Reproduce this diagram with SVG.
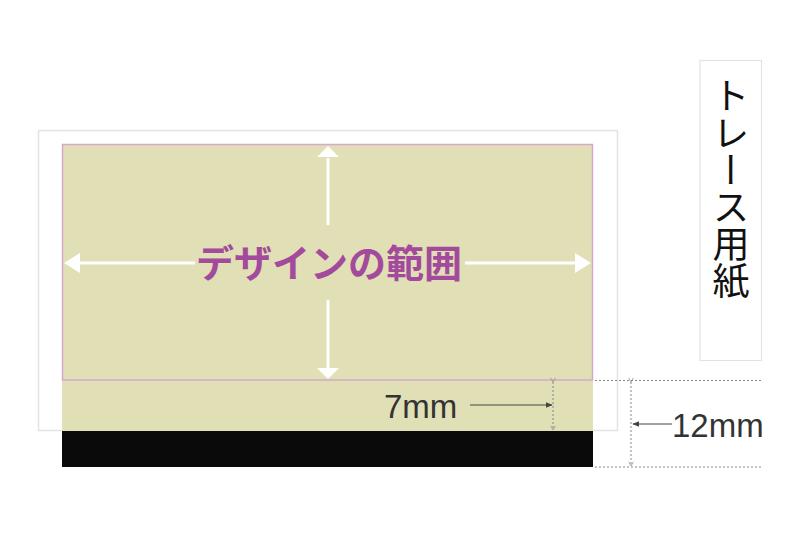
<svg xmlns="http://www.w3.org/2000/svg" width="800" height="533" viewBox="0 0 800 533">
<style>
.dim{stroke:#888;stroke-width:1;stroke-dasharray:2,2;fill:none}
.lead{stroke:#444;stroke-width:1;fill:none}
.wl{stroke:#fff;stroke-width:3;fill:none}
.lbl{font-family:"Liberation Sans","Noto Sans",sans-serif;font-size:33px;fill:#333}
</style>
<defs>
<marker id="ah" viewBox="0 0 10 10" refX="9" refY="5" markerWidth="7" markerHeight="7" orient="auto" markerUnits="userSpaceOnUse"><path d="M0,1 L10,5 L0,9 z" fill="#444"/></marker>
<marker id="sh" viewBox="0 0 10 10" refX="9" refY="5" markerWidth="6" markerHeight="6" orient="auto" markerUnits="userSpaceOnUse"><path d="M2,1 L9,5 L2,9" fill="none" stroke="#888" stroke-width="1.2"/></marker>
</defs>
<rect width="800" height="533" fill="#fff"/>
<g id="tracing-paper">
<rect x="38.5" y="130.5" width="579" height="300" fill="#fff" stroke="#e3e3e3" stroke-width="1.5"/>
</g>
<g id="bottom-strip">
<rect x="62" y="380" width="531" height="51" fill="#e0dfb5"/>
<rect x="62" y="431" width="531" height="36" fill="#0a0a0a"/>
</g>
<g id="design-area">
<rect x="62.5" y="144.5" width="530" height="235.5" fill="#e0dfb5" stroke="#d6a8cf" stroke-width="1.5"/>
<text x="329" y="277" text-anchor="middle" font-family="Noto Sans CJK JP,sans-serif" font-weight="bold" font-size="38" fill="#a44a9d">デザインの範囲</text>
</g>
<g id="connectors">
<line class="wl" x1="78" y1="263" x2="195" y2="263"/>
<line class="wl" x1="465" y1="263" x2="578" y2="263"/>
<path d="M64,263 L80,253 L80,273 z" fill="#fff"/>
<path d="M591,263 L575,253 L575,273 z" fill="#fff"/>
<line class="wl" x1="328" y1="158" x2="328" y2="225"/>
<line class="wl" x1="328" y1="300" x2="328" y2="368"/>
<path d="M328,146 L317,157 L339,157 z" fill="#fff"/>
<path d="M328,379 L317,368 L339,368 z" fill="#fff"/>
<line class="dim" x1="595" y1="380.5" x2="762" y2="380.5"/>
<line class="dim" x1="595" y1="467" x2="762" y2="467"/>
<line class="dim" x1="553" y1="382" x2="553" y2="430" marker-start="url(#sh)" marker-end="url(#sh)"/>
<line class="dim" x1="631" y1="382" x2="631" y2="466" marker-start="url(#sh)" marker-end="url(#sh)"/>
<line class="lead" x1="470" y1="405" x2="552" y2="405" marker-end="url(#ah)"/>
<line class="lead" x1="672" y1="424" x2="633" y2="424" marker-end="url(#ah)"/>
</g>
<g id="label-7mm"><text class="lbl" x="384" y="418">7mm</text></g>
<g id="label-12mm"><text class="lbl" x="672" y="437">12mm</text></g>
<g id="tracing-label">
<rect x="700" y="60.5" width="61.5" height="300" fill="#fff" stroke="#e3e3e3" stroke-width="1.2"/>
<text x="731" y="77" writing-mode="vertical-rl" font-family="Noto Sans CJK JP,sans-serif" font-size="37" fill="#111">トレース用紙</text>
</g>
</svg>
